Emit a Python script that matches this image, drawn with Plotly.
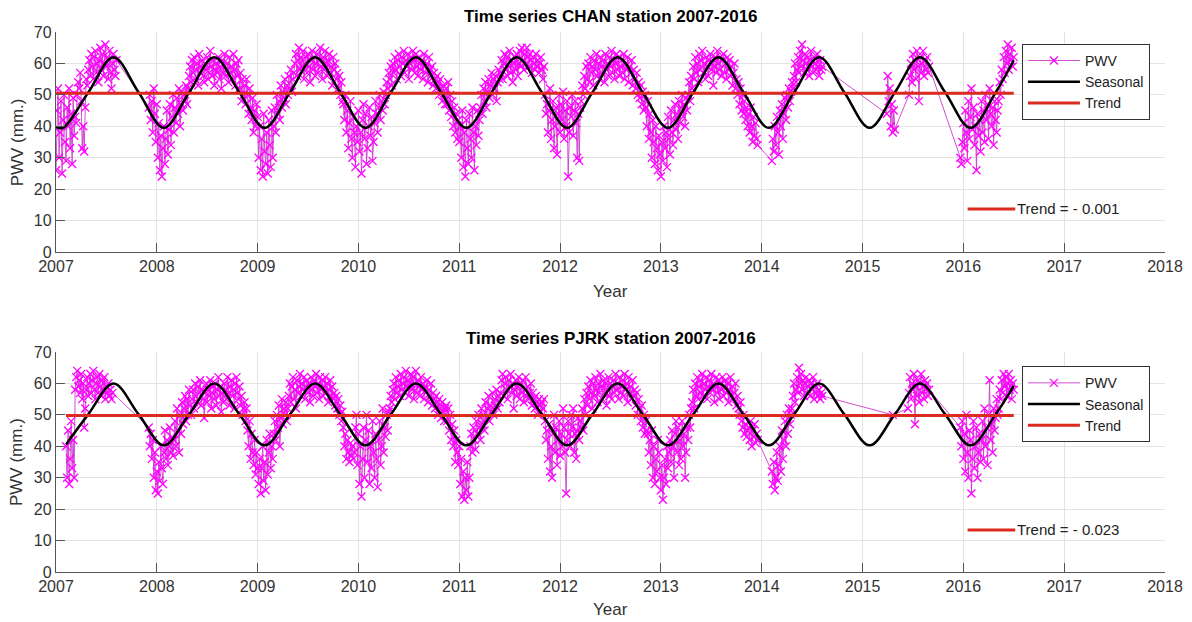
import plotly.graph_objects as go

# ---------------- data (decimal years, mm) ----------------
STEP = 0.01  # sampling step inside each observed segment (years)

# CHAN station PWV, segments: (start year, values)
CHAN_PWV = [
    (2007.00, [26, 45, 52, 30, 38, 48, 25, 42, 50, 35, 29, 46, 40, 52, 33, 44, 28, 49, 37, 43, 41]),
    (2007.21, [50, 54, 52, 57, 48, 33, 40, 32, 46, 55]),
    (2007.31, [53, 58, 61, 56, 63, 59, 55, 62, 64, 57, 60, 54, 61, 65, 58, 63, 56, 60, 66, 59,
               62, 55, 64, 57, 52, 60, 63, 58, 56, 61]),
    (2007.92, [46, 50, 42, 48, 38, 52, 44, 35, 47, 30, 41, 26, 37, 24, 33, 40, 28, 36, 45, 31,
               39, 47, 34, 43, 50, 38, 46, 41, 49, 44, 52, 40, 47, 51, 45, 50, 48, 53, 47]),
    (2008.31, [52, 56, 59, 54, 61, 57, 62, 55, 58, 60, 53, 63, 57, 59, 61, 56, 54, 60, 58, 62,
               55, 57, 64, 59, 56, 61, 53, 58, 60, 57, 62, 55, 59, 52, 61, 57, 63, 56, 58, 60,
               54, 62, 57, 59, 55, 63, 58, 53, 60, 56, 61, 52, 57, 48, 55, 50]),
    (2008.87, [53, 47, 55, 50, 44, 52, 46, 42, 49, 38, 45, 40, 47, 43]),
    (2009.01, [30, 40, 26, 36, 24, 44, 32, 28, 38, 25, 42, 34, 27, 45, 30]),
    (2009.16, [40, 46, 38, 50, 44, 48, 42, 53, 46, 51, 49, 55, 47, 53, 50, 56, 52, 58, 51, 55, 57]),
    (2009.37, [60, 63, 56, 61, 65, 58, 62, 59, 64, 55, 60, 62, 57, 63, 59, 54, 61, 64, 58, 62,
               56, 60, 63, 57, 61, 65, 59, 55, 62, 58, 64, 60, 56, 61, 63, 57, 59, 53, 62, 58,
               60, 55, 57, 52, 56, 50, 54, 48]),
    (2009.85, [47, 42, 50, 38, 45, 33, 41, 48, 36, 30, 43, 38, 27, 40, 35, 45, 32, 38, 25, 42,
               47, 36, 44, 28, 33, 40, 46, 37, 43, 29, 35, 41, 48, 44, 38, 46, 50, 42, 48, 45,
               51, 47]),
    (2010.27, [50, 54, 52, 57, 55, 59, 53, 60, 57, 62, 58, 55, 61, 63, 59, 56, 62, 60, 64, 57,
               61, 59, 63, 55, 60, 62, 58, 64, 61, 57, 63, 59, 56, 62, 60, 58, 61, 55, 63, 59,
               57, 60, 54, 62, 58, 56, 59, 53, 57, 55, 52, 56, 54, 50, 55, 52, 48, 53, 50, 47]),
    (2010.87, [52, 47, 54, 45, 50, 43, 48, 40, 46, 38, 44, 36, 42, 35]),
    (2011.01, [40, 30, 45, 27, 38, 24, 42, 33, 28, 44, 36, 30, 46, 38, 26, 40, 34, 45, 37, 42]),
    (2011.21, [46, 50, 44, 52, 48, 54, 46, 51, 55, 49, 53, 57, 50, 55, 52, 56, 48, 54, 58, 55]),
    (2011.41, [57, 61, 55, 60, 63, 58, 62, 56, 59, 64, 57, 61, 54, 60, 62, 58, 63, 56, 60, 64,
               59, 65, 61, 58, 63, 60, 65, 62, 59, 63, 61, 57, 62, 60, 58, 63, 59, 61, 57, 60,
               62, 58, 55, 59]),
    (2011.85, [50, 44, 47, 38, 45, 52, 36, 42, 48, 33, 40, 46, 31, 44, 50, 38, 47, 42, 51, 36,
               45, 40, 48, 24, 38, 46, 43, 50, 37, 45, 48, 41, 30, 44, 29, 46]),
    (2012.21, [48, 53, 50, 56, 52, 59, 55, 60, 54, 62, 57, 59, 53, 61, 58, 63, 56, 60, 55, 62,
               59, 57, 61, 54, 63, 58, 60, 56, 62, 59, 64, 57, 61, 55, 60, 63, 58, 62, 56, 59,
               61, 57, 63, 55, 60, 58, 62, 54, 59, 57, 61, 53, 58, 55, 52, 57, 50, 54, 49, 53,
               47, 51, 45, 50]),
    (2012.85, [46, 40, 48, 36, 44, 38, 30, 42, 35, 28, 40, 33, 26, 37, 31, 24, 35, 29, 40, 33,
               38, 27, 43, 36, 31, 45, 38, 34, 42, 47, 39, 44, 36, 48, 41, 46, 50, 43, 47, 40,
               49, 45]),
    (2013.27, [50, 54, 48, 56, 52, 59, 55, 62, 57, 60, 54, 63, 58, 61, 64, 57, 60, 55, 62, 59,
               56, 61, 63, 58, 60, 53, 59, 62, 57, 64, 60, 58, 62, 56, 61, 63, 57, 60, 55, 62,
               58, 61, 56, 59, 53, 57, 60, 52, 55, 50, 54, 47, 52, 45, 50, 44, 48, 42, 46, 40]),
    (2013.87, [44, 38, 46, 40, 35, 43, 37, 41, 36, 34]),
    (2014.10, [29, 36, 32, 40, 34, 43, 38, 31, 45, 40, 47, 36, 44, 49, 42, 50, 46, 52, 48, 51, 54]),
    (2014.31, [52, 56, 60, 54, 58, 62, 57, 64, 59, 66, 61, 57, 63, 60, 58, 62, 56, 61, 64, 59,
               57, 62, 60, 58, 63, 59, 56, 61, 58, 59]),
    (2015.24, [44, 56, 48, 52, 40, 47, 38, 45, 39]),
    (2015.46, [50, 56, 60, 54, 63, 58, 61, 55, 64, 59, 48, 62, 57, 60, 64, 56, 61, 58, 62, 57, 59]),
    (2015.97, [30, 28, 35, 41, 33, 45, 38, 29, 48, 36, 43, 52, 39, 46, 34, 40, 26, 44, 37, 42,
               32, 48, 38, 45, 35, 50, 42, 47, 36, 52, 44, 40, 46, 34, 48, 42, 38, 45]),
    (2016.35, [48, 54, 50, 58, 55, 62, 57, 64, 60, 66, 58, 63, 61, 65, 59, 62]),
]

# PJRK station PWV, segments: (start year, values)
PJRK_PWV = [
    (2007.10, [40, 30, 45, 28, 36, 48, 33, 42, 30]),
    (2007.19, [58, 62, 64, 59, 61, 57, 63, 55, 60, 46, 52, 58, 62, 56, 60, 63, 57, 61, 64, 58,
               55, 60, 62, 57, 63, 59, 56, 61, 58, 62, 55, 59, 57, 60, 56, 58, 55, 57]),
    (2007.92, [46, 40, 44, 36, 42, 30, 38, 26, 32, 25, 35, 29, 40, 33, 28, 38, 45, 36, 42, 34,
               40, 46, 38, 43, 37]),
    (2008.17, [42, 48, 40, 52, 45, 38, 50, 44, 54, 47, 52, 56, 48, 55, 50, 58, 53, 50]),
    (2008.35, [55, 58, 52, 60, 56, 54, 59, 57, 61, 53, 58, 55, 49, 57, 60, 54, 58, 56, 61, 52,
               57, 59, 55, 60, 53, 58, 62, 56, 59, 51, 57, 54, 60, 58, 55, 62, 57, 53, 59, 61,
               56, 58, 52, 60, 62, 57, 55, 59, 53, 56, 50, 52]),
    (2008.87, [54, 48, 52, 45, 40, 48, 36, 44, 38, 34, 42, 31, 38, 33]),
    (2009.01, [28, 36, 25, 33, 40, 29, 35, 26, 42, 31, 38, 44, 33, 40, 36]),
    (2009.16, [44, 48, 42, 50, 46, 53, 40, 49, 55, 47, 52, 50, 54, 48, 52]),
    (2009.31, [56, 60, 54, 59, 62, 55, 58, 52, 61, 57, 59, 63, 56, 60, 58, 62, 55, 59, 61, 57,
               60, 54, 62, 58, 56, 61, 59, 63, 57, 60, 55, 62, 58, 61, 56, 59, 62, 57, 60, 54,
               58, 61, 56, 59, 55, 57, 53, 56, 52, 55, 50, 53, 48, 51]),
    (2009.85, [46, 40, 44, 36, 42, 38, 35, 41, 37, 40, 36, 38]),
    (2009.97, [46, 50, 34, 44, 28, 40, 24, 36, 46, 30, 42, 50, 35, 45, 28, 40, 33, 48, 38, 30,
               44, 36, 27, 42, 48, 34, 40, 52, 38, 46, 43, 50, 45, 51]),
    (2010.31, [52, 56, 54, 58, 60, 55, 62, 57, 59, 61, 56, 63, 58, 60, 62, 57, 64, 59, 61, 56,
               60, 63, 58, 62, 55, 60, 64, 57, 61, 59, 56, 62, 58, 60, 55, 59, 57, 61, 54, 58,
               56, 60, 53, 57, 55, 52, 56, 54, 50, 55, 52, 49, 54, 51, 48, 52]),
    (2010.87, [53, 48, 52, 45, 50, 42, 47, 40, 45, 35, 42, 38, 34, 40]),
    (2011.01, [28, 36, 24, 32, 23, 30, 26, 35, 24, 30]),
    (2011.11, [40, 44, 38, 46, 42, 39, 48, 44, 50, 46, 42, 52, 47, 50, 45, 54, 49, 52, 56, 48,
               53, 51, 57, 50, 55, 53, 58, 52, 56, 54]),
    (2011.41, [57, 61, 63, 56, 60, 62, 58, 55, 61, 59, 63, 57, 60, 52, 58, 61, 56, 59, 62, 55,
               60, 57, 61, 54, 58, 62, 56, 59, 55, 57, 60, 53, 57, 55, 52, 56, 54, 50, 55, 53,
               51, 54, 52, 55]),
    (2011.85, [48, 42, 45, 36, 47, 32, 40, 30, 44, 50, 38, 46, 34, 42, 48, 37, 44, 40, 52, 46,
               38, 25, 42, 48, 44, 40, 50, 46, 52, 38, 44, 36, 45, 49, 42, 48]),
    (2012.21, [46, 52, 45, 55, 50, 57, 53, 59, 55, 61, 57, 52, 60, 56, 62, 58, 54, 60, 57, 63,
               59, 55, 61, 57, 60, 53, 58, 62, 56, 60, 55, 59, 61, 57, 63, 58, 60, 55, 62, 57,
               59, 61, 56, 63, 58, 60, 54, 62, 57, 59, 55, 61, 56, 58, 53, 57, 50, 55, 52, 48,
               53, 46, 50, 44, 48, 45]),
    (2012.87, [44, 38, 42, 34, 45, 30, 40, 28, 36, 32, 42, 38, 30, 26, 34, 23, 30, 36, 28, 40,
               33, 38, 42, 35, 45, 40, 30, 44, 48, 38, 46, 34, 42, 36, 48, 40, 44, 30, 38, 46,
               42, 50, 46, 52]),
    (2013.31, [54, 58, 52, 60, 56, 62, 55, 59, 61, 57, 63, 56, 60, 58, 62, 55, 59, 61, 57, 63,
               58, 60, 54, 59, 62, 57, 61, 55, 60, 58, 62, 56, 59, 61, 57, 60, 54, 58, 62, 56,
               59, 55, 57, 60, 53, 56, 52, 50, 54, 48, 46, 50, 44, 47, 43, 45]),
    (2013.87, [46, 42, 48, 40, 45, 43, 47, 41, 44, 42]),
    (2014.10, [32, 28, 35, 26, 30, 38, 29, 34, 40, 32, 45, 36, 42, 48, 40, 50, 44, 52, 47, 50]),
    (2014.30, [52, 56, 60, 54, 58, 62, 57, 65, 60, 63, 58, 61, 56, 60, 62, 57, 59, 61, 56, 60,
               58, 62, 55, 59, 57, 60, 56, 58, 55, 57, 56]),
    (2015.30, [50]),
    (2015.45, [52, 57, 62, 55, 60, 58, 63, 47, 59, 56, 61, 54, 60, 63, 57, 59, 55, 61, 58, 60, 56, 58]),
    (2015.97, [46, 40, 48, 36, 44, 32, 50, 38, 30, 45, 42, 25, 36, 48, 33, 40, 46, 30, 38, 44,
               35, 42, 48, 36, 52, 40, 46, 34, 50, 61, 42, 47, 38, 52, 45, 49, 55, 50]),
    (2016.35, [52, 58, 55, 61, 57, 63, 59, 62, 56, 60, 63, 58, 61, 55, 60, 58]),
]

# Seasonal component: key points (troughs, mean crossings, peaks)
SEAS_T_CHAN = [2007.00, 2007.07, 2007.32, 2007.57, 2007.82,
               2008.07, 2008.32, 2008.57, 2008.82, 2009.07, 2009.32, 2009.57, 2009.82,
               2010.07, 2010.32, 2010.57, 2010.82, 2011.07, 2011.32, 2011.57, 2011.82,
               2012.07, 2012.32, 2012.57, 2012.82, 2013.07, 2013.32, 2013.57, 2013.82,
               2014.07, 2014.32, 2014.57, 2014.82, 2015.07, 2015.32, 2015.57, 2015.82,
               2016.07, 2016.32, 2016.50]
SEAS_V_CHAN = [39.8, 39.5, 50.75, 62.0, 50.75,
               39.5, 50.75, 62.0, 50.75, 39.5, 50.75, 62.0, 50.75,
               39.5, 50.75, 62.0, 50.75, 39.5, 50.75, 62.0, 50.75,
               39.5, 50.75, 62.0, 50.75, 39.5, 50.75, 62.0, 50.75,
               39.5, 50.75, 62.0, 50.75, 39.5, 50.75, 62.0, 50.75,
               39.5, 50.75, 61.0]
SEAS_T_PJRK = [2007.10, 2007.32, 2007.57, 2007.82,
               2008.07, 2008.32, 2008.57, 2008.82, 2009.07, 2009.32, 2009.57, 2009.82,
               2010.07, 2010.32, 2010.57, 2010.82, 2011.07, 2011.32, 2011.57, 2011.82,
               2012.07, 2012.32, 2012.57, 2012.82, 2013.07, 2013.32, 2013.57, 2013.82,
               2014.07, 2014.32, 2014.57, 2014.82, 2015.07, 2015.32, 2015.57, 2015.82,
               2016.07, 2016.32, 2016.50]
SEAS_V_PJRK = [40.6, 50.15, 60.0, 50.15,
               40.3, 50.15, 60.0, 50.15, 40.3, 50.15, 60.0, 50.15,
               40.3, 50.15, 60.0, 50.15, 40.3, 50.15, 60.0, 50.15,
               40.3, 50.15, 60.0, 50.15, 40.3, 50.15, 60.0, 50.15,
               40.3, 50.15, 60.0, 50.15, 40.3, 50.15, 60.0, 50.15,
               40.3, 50.15, 59.2]

# Trend lines (start, end, level)
TREND_T_CHAN = [2007.00, 2016.50]
TREND_V_CHAN = [50.5, 50.49]
TREND_T_PJRK = [2007.10, 2016.50]
TREND_V_PJRK = [49.8, 49.78]

TITLES = ["Time series CHAN station 2007-2016", "Time series PJRK station 2007-2016"]
TREND_LABELS = ["Trend = - 0.001", "Trend = - 0.023"]
X_TICKS = list(range(2007, 2019))
Y_TICKS = list(range(0, 71, 10))


def expand(segments):
    xs, ys = [], []
    for start, vals in segments:
        for i, v in enumerate(vals):
            xs.append(round(start + i * STEP, 4))
            ys.append(v)
    return xs, ys


FONT = "Liberation Sans, Arial, sans-serif"
MAGENTA = "#ff00ff"
RED = "#dc2a1e"

fig = go.Figure()

stations = [
    (CHAN_PWV, SEAS_T_CHAN, SEAS_V_CHAN, TREND_T_CHAN, TREND_V_CHAN),
    (PJRK_PWV, SEAS_T_PJRK, SEAS_V_PJRK, TREND_T_PJRK, TREND_V_PJRK),
]

for k, (pwv, st, sv, tt, tv) in enumerate(stations):
    xa = "x" if k == 0 else "x2"
    ya = "y" if k == 0 else "y2"
    lg = "legend" if k == 0 else "legend2"
    px, py = expand(pwv)
    fig.add_trace(go.Scatter(
        x=px, y=py, mode="lines+markers", name="PWV", xaxis=xa, yaxis=ya, legend=lg,
        line=dict(color="rgba(205,60,205,0.9)", width=1),
        marker=dict(symbol="x-thin", size=8, color=MAGENTA, line=dict(color=MAGENTA, width=1.3)),
    ))
    fig.add_trace(go.Scatter(
        x=st, y=sv, mode="lines", name="Seasonal", xaxis=xa, yaxis=ya, legend=lg,
        line=dict(color="black", width=2.5, shape="spline", smoothing=1.0),
    ))
    fig.add_trace(go.Scatter(
        x=tt, y=tv, mode="lines", name="Trend", xaxis=xa, yaxis=ya, legend=lg,
        line=dict(color=RED, width=3),
    ))

axis_common = dict(
    showline=True, linecolor="#555555", linewidth=1.3,
    ticks="inside", ticklen=9, tickcolor="#555555", tickwidth=1.2,
    showgrid=True, gridcolor="#e3e3e3", gridwidth=1, zeroline=False,
    tickfont=dict(family=FONT, size=16, color="#333333"), mirror=False, automargin=False,
)

# the page body adds an 8 px offset; the figure is sized so the plot lands where the reference has it
fig.update_layout(
    width=1184, height=614,
    margin=dict(l=48, r=27, t=24, b=50, autoexpand=False),
    plot_bgcolor="white", paper_bgcolor="white",
    font=dict(family=FONT, size=14, color="#222222"),
    xaxis=dict(range=[2007, 2018], tickvals=X_TICKS, anchor="y", **axis_common),
    yaxis=dict(range=[0, 70], tickvals=Y_TICKS, domain=[0.5926, 1.0], anchor="x", **axis_common),
    xaxis2=dict(range=[2007, 2018], tickvals=X_TICKS, anchor="y2", **axis_common),
    yaxis2=dict(range=[0, 70], tickvals=Y_TICKS, domain=[0.0, 0.4074], anchor="x2", **axis_common),
    legend=dict(x=0.871, y=0.978, xanchor="left", yanchor="top", bgcolor="white",
                bordercolor="#333333", borderwidth=1, font=dict(family=FONT, size=14, color="#222"),
                itemwidth=52, tracegroupgap=0),
    legend2=dict(x=0.871, y=0.381, xanchor="left", yanchor="top", bgcolor="white",
                 bordercolor="#333333", borderwidth=1, font=dict(family=FONT, size=14, color="#222"),
                 itemwidth=52, tracegroupgap=0),
    showlegend=True,
)

# titles and axis labels
title_y = [1.028, 0.433]
year_y = [0.520, -0.070]
ylab_y = [0.796, 0.204]
trend_y = [13.7, 13.4]
for k in range(2):
    fig.add_annotation(text="<b>" + TITLES[k] + "</b>", x=0.5, y=title_y[k], xref="paper", yref="paper",
                       showarrow=False, xanchor="center", yanchor="middle",
                       font=dict(family=FONT, size=17, color="black"))
    fig.add_annotation(text="Year", x=0.5, y=year_y[k], xref="paper", yref="paper",
                       showarrow=False, xanchor="center", yanchor="middle",
                       font=dict(family=FONT, size=17, color="#333333"))
    fig.add_annotation(text="PWV (mm.)", x=-0.035, y=ylab_y[k], xref="paper", yref="paper",
                       showarrow=False, textangle=-90, xanchor="center", yanchor="middle",
                       font=dict(family=FONT, size=17, color="#333333"))
    xr = "x" if k == 0 else "x2"
    yr = "y" if k == 0 else "y2"
    fig.add_annotation(text=TREND_LABELS[k], x=0.865, y=trend_y[k], xref=xr + " domain", yref=yr,
                       showarrow=False, xanchor="left", yanchor="middle",
                       font=dict(family=FONT, size=15, color="#222222"))
    fig.add_shape(type="line", x0=0.822, x1=0.865, y0=trend_y[k], y1=trend_y[k],
                  xref=xr + " domain", yref=yr, line=dict(color=RED, width=3))

fig.write_html("out.html")
